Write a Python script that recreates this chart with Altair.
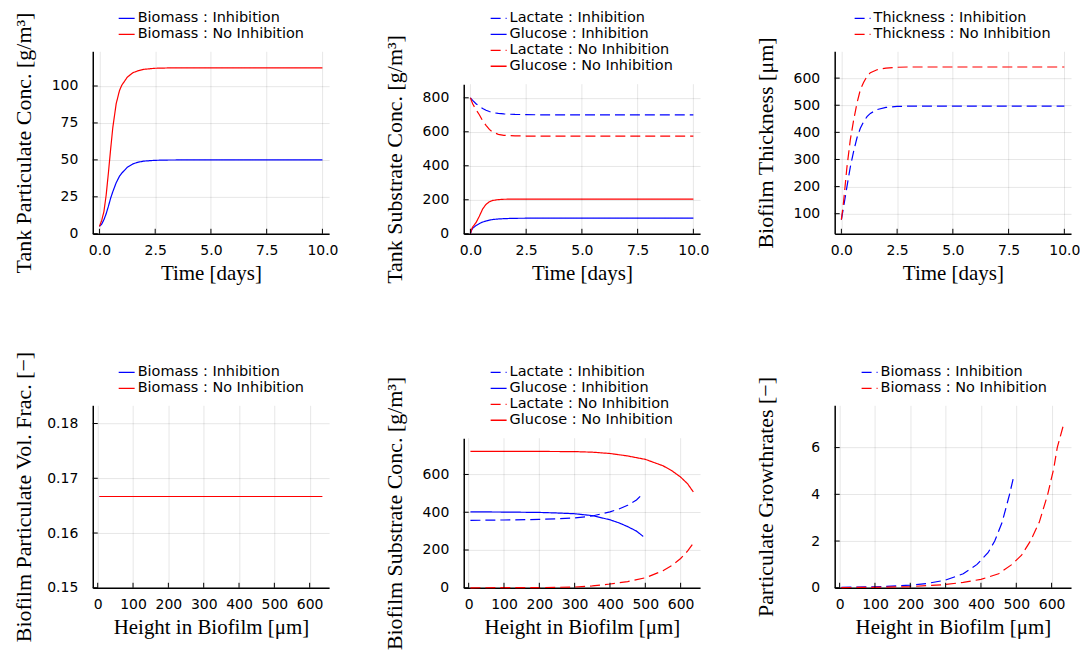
import altair as alt
import pandas as pd

BLUE = "#0000ff"
RED = "#ff0000"
SOLID = [1, 0]
DASH = [10, 5]

W, H = 237, 183

# ---------------- Panel 1: tank particulate concentration ----------------
p1_time = [0, 0.1, 0.2, 0.3, 0.4, 0.5, 0.6, 0.75, 0.9, 1.0, 1.25, 1.5, 1.75, 2.0, 2.5, 3.0, 4.0, 5.0, 7.5, 10.0]
p1_biomass_inh = [5, 6.5, 9.5, 13.5, 18.5, 24, 28.5, 34.5, 39, 41, 45, 47.3, 48.5, 49.2, 49.7, 49.9, 50, 50, 50, 50]
p1_biomass_noinh = [5, 9, 15, 26, 41, 57, 72, 88, 97, 100.5, 106, 109, 110.4, 111.3, 112, 112.2, 112.3, 112.3, 112.3, 112.3]
p1_xticks = [0, 2.5, 5, 7.5, 10]
p1_yticks = [0, 25, 50, 75, 100]

# ---------------- Panel 2: tank substrate concentration ----------------
p2_time = [0, 0.05, 0.1, 0.25, 0.4, 0.55, 0.7, 0.85, 1.0, 1.25, 1.5, 2.0, 2.5, 3.0, 5.0, 7.5, 10.0]
p2_lactate_inh = [800, 792, 785, 765, 750, 737, 727, 719, 713, 708, 705, 702, 701, 700, 700, 700, 700]
p2_glucose_inh = [0, 20, 32, 48, 60, 69, 75, 80, 84, 87, 89, 91, 91.5, 92, 92, 92, 92]
p2_lactate_noinh = [800, 782, 765, 730, 700, 665, 638, 614, 598, 585, 579, 576, 575, 575, 575, 575, 575]
p2_glucose_noinh = [0, 25, 40, 65, 103, 146, 173, 188, 196, 201, 203, 204, 204, 204, 204, 204, 204]
p2_xticks = [0, 2.5, 5, 7.5, 10]
p2_yticks = [0, 200, 400, 600, 800]

# ---------------- Panel 3: biofilm thickness ----------------
p3_time = [0, 0.1, 0.25, 0.4, 0.55, 0.7, 0.85, 1.0, 1.15, 1.3, 1.6, 2.0, 2.5, 3.0, 4.0, 5.0, 7.5, 10.0]
p3_thick_inh = [78, 125, 200, 272, 330, 380, 415, 440, 458, 470, 484, 492, 495.5, 496.5, 497, 497, 497, 497]
p3_thick_noinh = [78, 145, 272, 372, 445, 508, 557, 585, 607, 620, 631, 637, 640, 641, 641, 641, 641, 641]
p3_xticks = [0, 2.5, 5, 7.5, 10]
p3_yticks = [100, 200, 300, 400, 500, 600]

# ---------------- Panel 4: biofilm particulate volume fraction ----------------
p4_height_inh = [5, 100, 200, 300, 400, 494]
p4_frac_inh = [0.16667, 0.16667, 0.16667, 0.16667, 0.16667, 0.16667]
p4_height_noinh = [5, 100, 200, 300, 400, 500, 600, 636]
p4_frac_noinh = [0.16667, 0.16667, 0.16667, 0.16667, 0.16667, 0.16667, 0.16667, 0.16667]
p4_xticks = [0, 100, 200, 300, 400, 500, 600]
p4_yticks = [0.15, 0.16, 0.17, 0.18]

# ---------------- Panel 5: biofilm substrate concentration ----------------
p5_height_inh = [5, 100, 200, 250, 300, 350, 400, 425, 450, 475, 494]
p5_glucose_inh = [402, 401, 399, 396, 392, 382, 360, 344, 324, 300, 272]
p5_lactate_inh = [357, 359, 362, 365, 370, 380, 402, 417, 437, 465, 500]
p5_height_noinh = [5, 100, 200, 300, 350, 400, 450, 500, 550, 575, 600, 620, 636]
p5_glucose_noinh = [722, 722, 722, 721, 718, 711, 698, 680, 646, 620, 586, 550, 507]
p5_lactate_noinh = [0, 0.5, 1, 4, 10, 20, 33, 53, 90, 118, 155, 195, 237]
p5_xticks = [0, 100, 200, 300, 400, 500, 600]
p5_yticks = [0, 200, 400, 600]

# ---------------- Panel 6: particulate growth rates ----------------
p6_height_inh = [5, 100, 200, 250, 300, 350, 389, 420, 439, 460, 481, 494]
p6_growth_inh = [0.02, 0.04, 0.11, 0.19, 0.33, 0.6, 1.0, 1.5, 2.0, 2.8, 4.0, 4.85]
p6_height_noinh = [5, 100, 200, 300, 350, 400, 450, 488, 515, 540, 565, 589, 606, 616, 636]
p6_growth_noinh = [0.01, 0.02, 0.05, 0.14, 0.23, 0.36, 0.6, 1.0, 1.4, 2.0, 2.8, 4.0, 5.1, 6.0, 7.1]
p6_xticks = [0, 100, 200, 300, 400, 500, 600]
p6_yticks = [0, 2, 4, 6]


def long_df(series):
    rows = []
    for name, xs, ys in series:
        for i, (a, b) in enumerate(zip(xs, ys)):
            rows.append({"series": name, "x": a, "y": b, "i": i})
    return pd.DataFrame(rows)


def panel(series, names, colors, dashes, xdom, ydom, xticks, yticks, xfmt, yfmt,
          xtitle, ytitle, legend_x, top=0):
    df = long_df(series)
    xscale = alt.Scale(domain=xdom, nice=False, zero=False)
    yscale = alt.Scale(domain=ydom, nice=False, zero=False, range=[H, top])
    leg = alt.Legend(
        orient="none", legendX=legend_x, legendY=-42, direction="vertical", title=None,
        symbolType="stroke", symbolSize=256, symbolStrokeWidth=1.3,
        labelFont="DejaVu Sans", labelFontSize=14.5, labelColor="black",
        labelOffset=2, rowPadding=0, padding=0, labelLimit=400,
    )
    xaxis = alt.Axis(
        values=xticks, format=xfmt, title=xtitle, grid=(top == 0),
        labelOverlap=False, labelFlush=False, labelSeparation=0,
        labelPadding=10, titleY=46, titleBaseline="alphabetic",
    )
    yaxis = alt.Axis(
        values=yticks, format=yfmt, title=ytitle, grid=True,
        labelOverlap=False, labelFlush=False, labelSeparation=0,
        labelPadding=15, titleX=-62, titleY=(H + top) / 2, titleBaseline="alphabetic",
    )
    X = alt.X("x:Q", scale=xscale, axis=xaxis)
    Y = alt.Y("y:Q", scale=yscale, axis=yaxis)
    lines = alt.Chart(df).mark_line(strokeWidth=1.2).encode(
        x=X,
        y=Y,
        color=alt.Color("series:N", scale=alt.Scale(domain=names, range=colors), legend=leg),
        strokeDash=alt.StrokeDash("series:N", scale=alt.Scale(domain=names, range=dashes), legend=leg),
        order="i:Q",
    )
    xt = pd.DataFrame({"x": xticks})
    yt = pd.DataFrame({"y": yticks})
    xtick_marks = alt.Chart(xt).mark_rule(color="black", strokeWidth=1).encode(
        x=X, y=alt.value(H), y2=alt.value(H - 5))
    ytick_marks = alt.Chart(yt).mark_rule(color="black", strokeWidth=1).encode(
        y=Y, x=alt.value(0), x2=alt.value(5))
    layers = [lines]
    if top != 0:
        xgrid = alt.Chart(xt).mark_rule(color="black", opacity=0.1, strokeWidth=1).encode(
            x=X, y=alt.value(top), y2=alt.value(H))
        layers.append(xgrid)
    layers += [xtick_marks, ytick_marks]
    return alt.layer(*layers).properties(width=W, height=H)


bi = "Biomass : Inhibition"
bn = "Biomass : No Inhibition"
li = "Lactate : Inhibition"
gi = "Glucose : Inhibition"
ln = "Lactate : No Inhibition"
gn = "Glucose : No Inhibition"
ti = "Thickness : Inhibition"
tn = "Thickness : No Inhibition"

c1 = panel(
    [(bi, p1_time, p1_biomass_inh), (bn, p1_time, p1_biomass_noinh)],
    [bi, bn], [BLUE, RED], [SOLID, SOLID],
    [-0.3, 10.3], [0, 123.5], p1_xticks, p1_yticks, ".1f", "d",
    "Time [days]", "Tank Particulate Conc. [g/m³]", 25)

c2 = panel(
    [(li, p2_time, p2_lactate_inh), (gi, p2_time, p2_glucose_inh),
     (ln, p2_time, p2_lactate_noinh), (gn, p2_time, p2_glucose_noinh)],
    [li, gi, ln, gn], [BLUE, BLUE, RED, RED], [DASH, SOLID, DASH, SOLID],
    [-0.3, 10.3], [0, 880], p2_xticks, p2_yticks, ".1f", "d",
    "Time [days]", "Tank Substrate Conc. [g/m³]", 26, top=33)

c3 = panel(
    [(ti, p3_time, p3_thick_inh), (tn, p3_time, p3_thick_noinh)],
    [ti, tn], [BLUE, RED], [DASH, DASH],
    [-0.3, 10.3], [26, 699], p3_xticks, p3_yticks, ".1f", "d",
    "Time [days]", "Biofilm Thickness [μm]", 19)

c4 = panel(
    [(bi, p4_height_inh, p4_frac_inh), (bn, p4_height_noinh, p4_frac_noinh)],
    [bi, bn], [BLUE, RED], [SOLID, SOLID],
    [-14, 655], [0.15, 0.18333], p4_xticks, p4_yticks, "d", ".2f",
    "Height in Biofilm [μm]", "Biofilm Particulate Vol. Frac. [−]", 25)

c5 = panel(
    [(li, p5_height_inh, p5_lactate_inh), (gi, p5_height_inh, p5_glucose_inh),
     (ln, p5_height_noinh, p5_lactate_noinh), (gn, p5_height_noinh, p5_glucose_noinh)],
    [li, gi, ln, gn], [BLUE, BLUE, RED, RED], [DASH, SOLID, DASH, SOLID],
    [-14, 655], [0, 792], p5_xticks, p5_yticks, "d", "d",
    "Height in Biofilm [μm]", "Biofilm Substrate Conc. [g/m³]", 26, top=33)

c6 = panel(
    [(bi, p6_height_inh, p6_growth_inh), (bn, p6_height_noinh, p6_growth_noinh)],
    [bi, bn], [BLUE, RED], [DASH, DASH],
    [-14, 655], [0, 7.81], p6_xticks, p6_yticks, "d", "d",
    "Height in Biofilm [μm]", "Particulate Growthrates [−]", 26)

chart = alt.concat(
    c1, c2, c3, c4, c5, c6, columns=3,
    spacing=alt.RowColnumber(row=172, column=135), bounds="flush",
).resolve_scale(
    x="independent", y="independent", color="independent", strokeDash="independent"
).resolve_legend(
    color="independent", strokeDash="independent"
).resolve_axis(
    x="independent", y="independent"
).properties(
    padding={"left": 4, "top": 0.5, "right": 0, "bottom": 0},
    background="white",
).configure_view(
    stroke=None
).configure_axis(
    domainColor="black", domainWidth=1.5, ticks=False, tickSize=0,
    labelFont="DejaVu Sans", labelFontSize=14, labelColor="black",
    labelOverlap=False,
    titleFont="Liberation Serif", titleFontWeight="normal", titleColor="black",
    gridColor="black", gridOpacity=0.1, gridWidth=1,
).configure_axisX(
    titleFontSize=21
).configure_axisY(
    titleFontSize=22
)

chart.save("out.html", embed_options={"renderer": "svg", "actions": False})
